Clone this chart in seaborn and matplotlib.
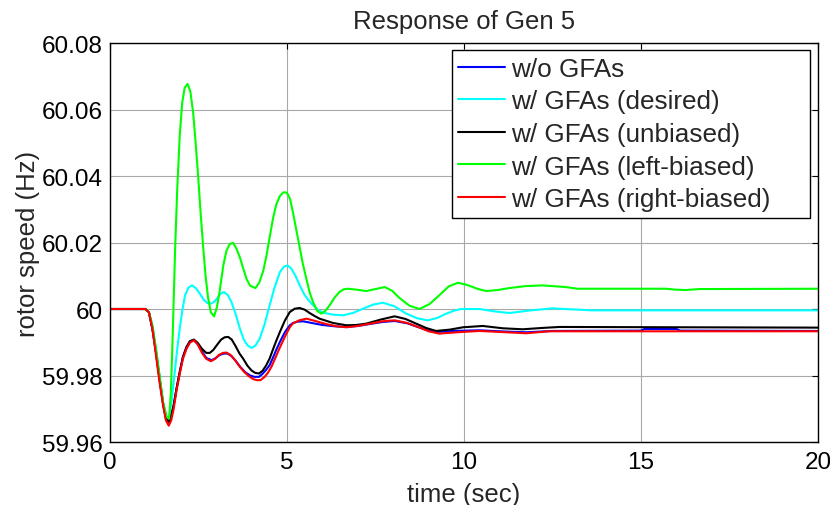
import matplotlib
matplotlib.use("Agg")
import matplotlib.pyplot as plt
import seaborn as sns
import numpy as np
import pandas as pd

# ---- data ----
labels = ["w/o GFAs", "w/ GFAs (desired)", "w/ GFAs (unbiased)",
          "w/ GFAs (left-biased)", "w/ GFAs (right-biased)"]
colors = ["#0000ff", "#00ffff", "#000000", "#00ff00", "#ff0000"]

t_blue = [0, 1.0, 1.1, 1.2, 1.3, 1.4, 1.5, 1.58, 1.65, 1.72, 1.79, 1.88, 1.97, 2.06, 2.16, 2.26, 2.37,
          2.48, 2.60, 2.72, 2.87, 2.98, 3.10, 3.22, 3.32, 3.44, 3.56, 3.68, 3.82, 3.96, 4.08, 4.21,
          4.31, 4.41, 4.51, 4.61, 4.70, 4.80, 4.94, 5.08, 5.17, 5.30, 5.46, 5.70, 6.00, 6.35, 6.68,
          7.00, 7.40, 7.70, 8.04, 8.40, 8.75, 9.00, 9.21, 9.70, 10.44, 11.20, 11.76, 12.50, 15.0,
          15.1, 16.0, 16.1, 20.0]
v_blue = [60, 60, 59.999, 59.994, 59.987, 59.979, 59.9715, 59.9675, 59.9666, 59.968, 59.9705, 59.976,
          59.981, 59.9855, 59.9885, 59.9903, 59.9907, 59.9895, 59.9872, 59.9853, 59.9846, 59.9852,
          59.9862, 59.9866, 59.9866, 59.9858, 59.9843, 59.9826, 59.9810, 59.9800, 59.9796, 59.9796,
          59.9805, 59.9817, 59.9831, 59.9855, 59.9878, 59.9901, 59.9930, 59.9951, 59.9958, 59.9962,
          59.9963, 59.9958, 59.9952, 59.9948, 59.9946, 59.9949, 59.9956, 59.9961, 59.9964, 59.9957,
          59.9944, 59.9935, 59.9931, 59.9934, 59.9936, 59.9932, 59.9930, 59.9934, 59.9935,
          59.9940, 59.9940, 59.9935, 59.9934]

t_cyan = [0, 1.0, 1.1, 1.2, 1.3, 1.4, 1.5, 1.6, 1.67, 1.75, 1.83, 1.90, 1.97, 2.05, 2.12, 2.22, 2.32,
          2.43, 2.54, 2.65, 2.75, 2.85, 2.95, 3.05, 3.13, 3.22, 3.33, 3.43, 3.55, 3.67, 3.78, 3.89,
          4.00, 4.11, 4.23, 4.37, 4.51, 4.65, 4.80, 4.92, 5.02, 5.12, 5.24, 5.36, 5.50, 5.62, 5.74,
          5.88, 6.02, 6.30, 6.58, 6.86, 7.15, 7.43, 7.71, 8.04, 8.37, 8.68, 8.98, 9.24, 9.50, 9.72,
          9.92, 10.44, 10.85, 11.28, 11.90, 12.50, 13.60, 20.0]
v_cyan = [60, 60, 59.999, 59.995, 59.988, 59.980, 59.972, 59.9675, 59.967, 59.973, 59.981, 59.988,
          59.9941, 60.0000, 60.0041, 60.0065, 60.0071, 60.0062, 60.0046, 60.0028, 60.0018, 60.0016,
          60.0022, 60.0035, 60.0047, 60.0051, 60.0042, 60.0021, 59.9985, 59.9941, 59.9908, 59.9890,
          59.9883, 59.9890, 59.9911, 59.9955, 60.0011, 60.0065, 60.0111, 60.0128, 60.0131, 60.0122,
          60.0100, 60.0071, 60.0042, 60.0025, 60.0011, 59.9997, 59.9989, 59.9983, 59.9981, 59.9988,
          60.0001, 60.0013, 60.0019, 60.0008, 59.9986, 59.9972, 59.9966, 59.9973, 59.9986, 59.9995,
          60.0000, 60.0000, 59.9993, 59.9988, 59.9996, 60.0002, 59.9996, 59.9996]

t_black = [0, 1.0, 1.1, 1.2, 1.3, 1.4, 1.5, 1.58, 1.66, 1.72, 1.79, 1.88, 1.97, 2.06, 2.16, 2.26, 2.37,
           2.48, 2.60, 2.72, 2.82, 2.92, 3.03, 3.14, 3.24, 3.34, 3.44, 3.55, 3.66, 3.76, 3.88, 4.00,
           4.10, 4.21, 4.31, 4.41, 4.51, 4.61, 4.70, 4.80, 4.94, 5.08, 5.22, 5.36, 5.50, 5.64, 5.78,
           5.92, 6.30, 6.68, 6.96, 7.24, 7.64, 8.04, 8.35, 8.65, 8.93, 9.21, 9.60, 9.97, 10.53,
           11.10, 11.66, 12.20, 12.70, 20.0]
v_black = [60, 60, 59.999, 59.994, 59.987, 59.979, 59.9715, 59.967, 59.966, 59.9675, 59.9705, 59.976,
           59.981, 59.9855, 59.9885, 59.9903, 59.9908, 59.9898, 59.9880, 59.9868, 59.9868, 59.9877,
           59.9893, 59.9908, 59.9915, 59.9916, 59.9908, 59.9888, 59.9866, 59.9851, 59.9830, 59.9815,
           59.9808, 59.9806, 59.9814, 59.9830, 59.9851, 59.9880, 59.9905, 59.9931, 59.9965, 59.9991,
           60.0001, 60.0003, 59.9998, 59.9988, 59.9979, 59.9971, 59.9958, 59.9951, 59.9952, 59.9956,
           59.9968, 59.9978, 59.9970, 59.9956, 59.9943, 59.9934, 59.9938, 59.9945, 59.9949, 59.9942,
           59.9939, 59.9943, 59.9946, 59.9944]

t_green = [0, 1.0, 1.1, 1.2, 1.3, 1.4, 1.5, 1.6, 1.67, 1.72, 1.78, 1.84, 1.90, 1.97, 2.04, 2.11, 2.19,
           2.27, 2.35, 2.42, 2.49, 2.56, 2.63, 2.70, 2.77, 2.85, 2.94, 3.02, 3.10, 3.20, 3.29, 3.38,
           3.48, 3.58, 3.67, 3.77, 3.86, 3.96, 4.11, 4.22, 4.33, 4.42, 4.51, 4.61, 4.70, 4.80, 4.90,
           5.00, 5.09, 5.17, 5.26, 5.36, 5.45, 5.55, 5.64, 5.74, 5.85, 5.97, 6.09, 6.21, 6.35, 6.49,
           6.60, 6.72, 6.98, 7.24, 7.50, 7.76, 7.97, 8.18, 8.46, 8.74, 9.03, 9.31, 9.57, 9.83, 10.10,
           10.40, 10.63, 10.95, 11.28, 11.75, 12.22, 12.88, 13.20, 15.70, 16.00, 16.27, 16.64, 20.0]
v_green = [60, 60, 59.999, 59.995, 59.988, 59.980, 59.972, 59.9675, 59.967, 59.975, 59.995, 60.018,
           60.036, 60.052, 60.062, 60.0665, 60.0677, 60.0655, 60.059, 60.050, 60.040, 60.029, 60.019,
           60.010, 60.0035, 59.9990, 59.9978, 60.0005, 60.0055, 60.013, 60.0175, 60.0195, 60.0199,
           60.018, 60.0155, 60.012, 60.009, 60.0070, 60.0063, 60.0080, 60.0115, 60.0160, 60.0215,
           60.0275, 60.0315, 60.0340, 60.0351, 60.0350, 60.0330, 60.0290, 60.0240, 60.0185, 60.0135,
           60.0090, 60.0050, 60.0020, 59.9995, 59.9986, 59.9995, 60.0012, 60.0035, 60.0052, 60.0059,
           60.0061, 60.0058, 60.0054, 60.0060, 60.0066, 60.0055, 60.0033, 60.0010, 60.0000, 60.0015,
           60.0042, 60.0068, 60.0079, 60.0072, 60.0060, 60.0054, 60.0057, 60.0063, 60.0069, 60.0071,
           60.0066, 60.0061, 60.0061, 60.0058, 60.0057, 60.0060, 60.0061]

t_red = [0, 1.0, 1.1, 1.2, 1.3, 1.4, 1.5, 1.58, 1.66, 1.73, 1.80, 1.88, 1.97, 2.06, 2.16, 2.26, 2.37,
         2.48, 2.60, 2.72, 2.85, 2.97, 3.08, 3.19, 3.29, 3.40, 3.52, 3.64, 3.78, 3.92, 4.05, 4.15,
         4.25, 4.36, 4.46, 4.56, 4.66, 4.76, 4.86, 4.98, 5.08, 5.17, 5.35, 5.55, 5.80, 6.10, 6.40,
         6.68, 7.00, 7.40, 7.70, 8.04, 8.40, 8.75, 9.00, 9.30, 9.80, 10.44, 11.20, 11.76, 12.40, 20.0]
v_red = [60, 60, 59.999, 59.994, 59.986, 59.978, 59.971, 59.9665, 59.9649, 59.9665, 59.970, 59.9755,
         59.9805, 59.985, 59.988, 59.9899, 59.9906, 59.9893, 59.9868, 59.9850, 59.9843, 59.9850,
         59.9862, 59.9868, 59.9869, 59.9862, 59.9848, 59.9830, 59.9812, 59.9798, 59.9789, 59.9786,
         59.9786, 59.9795, 59.9808, 59.9826, 59.9850, 59.9875, 59.9898, 59.9925, 59.9945, 59.9957,
         59.9966, 59.9971, 59.9964, 59.9955, 59.9948, 59.9945, 59.9949, 59.9957, 59.9963, 59.9966,
         59.9958, 59.9944, 59.9933, 59.9926, 59.9930, 59.9934, 59.9930, 59.9927, 59.9933, 59.9933]

x_ticks = [0, 5, 10, 15, 20]
y_ticks = [59.96, 59.98, 60.00, 60.02, 60.04, 60.06, 60.08]
y_tick_labels = ["59.96", "59.98", "60", "60.02", "60.04", "60.06", "60.08"]

series = [(t_blue, v_blue), (t_cyan, v_cyan), (t_black, v_black), (t_green, v_green), (t_red, v_red)]

# ---- plot ----
sns.set_style("white")
plt.rcParams["font.family"] = ["Liberation Sans", "DejaVu Sans"]

fig = plt.figure(figsize=(8.3, 5.06), dpi=100)
ax = fig.add_axes([0.1325, 0.1245, 0.853, 0.7885])

for (t, v), lab, col in zip(series, labels, colors):
    df = pd.DataFrame({"time": t, "speed": v})
    sns.lineplot(data=df, x="time", y="speed", ax=ax, color=col, label=lab,
                 linewidth=1.5, sort=False, estimator=None)

ax.set_xlim(0, 20)
ax.set_ylim(59.96, 60.08)
ax.set_xticks(x_ticks)
ax.set_xticklabels([str(x) for x in x_ticks])
ax.set_yticks(y_ticks)
ax.set_yticklabels(y_tick_labels)
ax.grid(True, color="#a8a8a8", linewidth=0.8, linestyle="-")
ax.set_axisbelow(True)
ax.tick_params(direction="in", length=4, width=0.8, top=True, right=True,
               labelsize=17.5, colors="black")
ax.tick_params(axis="x", pad=6.3)
ax.tick_params(axis="y", pad=5)
for s in ax.spines.values():
    s.set_color("black")
    s.set_linewidth(1.0)

ax.set_xlabel("time (sec)", fontsize=18.5, labelpad=6.5)
ax.set_ylabel("rotor speed (Hz)", fontsize=18.5, labelpad=1.5)
ax.set_title("Response of Gen 5", fontsize=18.5, pad=11)

leg = ax.legend(loc="upper right", bbox_to_anchor=(0.483, 0.5, 0.5057, 0.482),
                mode="expand", borderaxespad=0,
                fontsize=18.8, frameon=True, fancybox=False, framealpha=1,
                edgecolor="black", handlelength=1.8, handletextpad=0.23,
                labelspacing=0.33, borderpad=0.25)
leg.get_frame().set_linewidth(1.0)

fig.savefig("out.png", dpi=100)
